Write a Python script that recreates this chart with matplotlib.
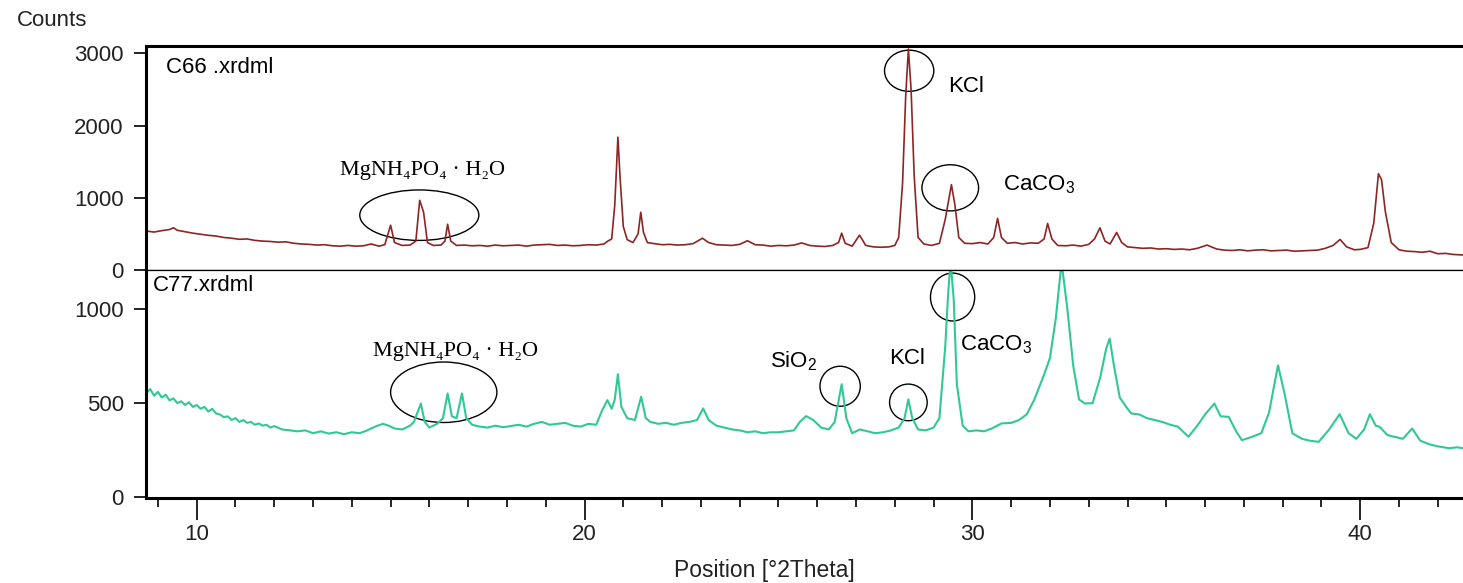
import numpy as np
import matplotlib.pyplot as plt
from matplotlib.patches import Ellipse
from matplotlib.ticker import MultipleLocator

plt.rcParams['font.family'] = ['Liberation Sans', 'DejaVu Sans']
plt.rcParams['mathtext.fontset'] = 'custom'
plt.rcParams['mathtext.rm'] = 'Liberation Sans'

# C66 pattern [deg 2theta], [counts]
c66_pos = [8.7, 8.9, 9.1, 9.3, 9.4, 9.5, 9.7, 9.9, 10.1, 10.3, 10.5, 10.7, 10.9, 11.1, 11.3,
           11.5, 11.7, 11.9, 12.1, 12.3, 12.5, 12.7, 12.9, 13.1, 13.3, 13.5, 13.7, 13.9, 14.1,
           14.3, 14.5, 14.7, 14.85, 15.0, 15.1, 15.3, 15.5, 15.65, 15.75, 15.85, 15.95, 16.1,
           16.3, 16.4, 16.47, 16.55, 16.7, 16.9, 17.1, 17.3, 17.5, 17.7, 17.9, 18.1, 18.3, 18.5,
           18.7, 18.9, 19.1, 19.3, 19.5, 19.7, 19.9, 20.1, 20.3, 20.5, 20.6, 20.7, 20.78, 20.86,
           20.92, 21.0, 21.1, 21.25, 21.38, 21.45, 21.52, 21.62, 21.8, 22.0, 22.2, 22.4, 22.6,
           22.8, 23.04, 23.2, 23.4, 23.6, 23.8, 24.0, 24.2, 24.4, 24.6, 24.8, 25.0, 25.2, 25.4,
           25.6, 25.8, 26.0, 26.2, 26.4, 26.55, 26.63, 26.72, 26.9, 27.09, 27.25, 27.45, 27.65,
           27.85, 28.0, 28.1, 28.2, 28.28, 28.35, 28.42, 28.5, 28.6, 28.75, 28.95, 29.15, 29.3,
           29.46, 29.55, 29.65, 29.8, 30.0, 30.2, 30.4, 30.55, 30.65, 30.75, 30.9, 31.1, 31.3,
           31.5, 31.7, 31.85, 31.94, 32.05, 32.2, 32.4, 32.6, 32.8, 33.0, 33.15, 33.29, 33.42,
           33.55, 33.72, 33.85, 34.0, 34.2, 34.4, 34.6, 34.8, 35.0, 35.2, 35.4, 35.6, 35.8,
           36.05, 36.3, 36.5, 36.7, 36.9, 37.1, 37.3, 37.5, 37.7, 37.9, 38.1, 38.3, 38.5, 38.7,
           38.9, 39.1, 39.3, 39.48, 39.65, 39.85, 40.0, 40.2, 40.35, 40.47, 40.55, 40.65, 40.8,
           41.0, 41.2, 41.4, 41.6, 41.8, 42.0, 42.2, 42.4, 42.66, 43.0]
c66_counts = [540, 525, 545, 560, 585, 550, 530, 510, 495, 480, 470, 450, 440, 425, 430,
              410, 400, 395, 385, 390, 370, 360, 355, 345, 350, 335, 330, 340, 330,
              335, 360, 330, 350, 620, 380, 340, 345, 400, 965, 800, 380, 340,
              345, 400, 634, 400, 340, 345, 335, 340, 330, 345, 335, 340, 345, 330,
              345, 350, 355, 340, 345, 335, 340, 350, 345, 360, 400, 430, 900, 1839,
              1250, 600, 420, 380, 500, 800, 520, 380, 365, 350, 355, 345, 350,
              365, 440, 380, 350, 345, 340, 355, 405, 350, 345, 330, 340, 335, 345,
              375, 340, 330, 325, 340, 380, 510, 370, 330, 483, 340, 320, 315,
              320, 340, 450, 1200, 2400, 3060, 2500, 1300, 450, 360, 340, 370, 700,
              1182, 900, 450, 370, 365, 380, 360, 450, 715, 450, 370, 380, 360,
              375, 370, 430, 644, 430, 340, 335, 345, 330, 355, 430, 584, 400,
              360, 520, 380, 320, 310, 300, 305, 290, 295, 285, 290, 280, 300,
              345, 290, 275, 270, 280, 265, 275, 280, 265, 270, 275, 260, 265, 270,
              275, 300, 340, 423, 320, 280, 285, 310, 650, 1333, 1250, 800, 380,
              280, 260, 255, 245, 260, 225, 230, 215, 207, 210]

# C77 pattern
c77_pos = [8.7, 8.8, 8.9, 9.0, 9.1, 9.2, 9.3, 9.4, 9.5, 9.6, 9.7, 9.8, 9.9, 10.0, 10.1, 10.2,
           10.3, 10.4, 10.5, 10.6, 10.7, 10.8, 10.9, 11.0, 11.1, 11.2, 11.3, 11.4, 11.5, 11.6,
           11.7, 11.8, 11.9, 12.0, 12.2, 12.4, 12.6, 12.8, 13.0, 13.2, 13.4, 13.6, 13.8, 14.0,
           14.2, 14.4, 14.6, 14.8, 14.95, 15.1, 15.3, 15.5, 15.6, 15.78, 15.88, 16.0, 16.2,
           16.35, 16.47, 16.58, 16.7, 16.84, 16.95, 17.1, 17.3, 17.5, 17.7, 17.9, 18.1, 18.3,
           18.5, 18.7, 18.9, 19.1, 19.3, 19.5, 19.7, 19.9, 20.1, 20.3, 20.45, 20.59, 20.7,
           20.78, 20.86, 20.95, 21.1, 21.3, 21.46, 21.58, 21.7, 21.9, 22.1, 22.3, 22.5, 22.7,
           22.9, 23.06, 23.2, 23.4, 23.6, 23.8, 24.0, 24.2, 24.4, 24.6, 24.8, 25.0, 25.2, 25.4,
           25.55, 25.71, 25.9, 26.1, 26.3, 26.45, 26.63, 26.75, 26.9, 27.1, 27.3, 27.5, 27.7,
           27.9, 28.1, 28.25, 28.35, 28.45, 28.6, 28.8, 29.0, 29.15, 29.3, 29.38, 29.44, 29.52,
           29.6, 29.75, 29.9, 30.1, 30.3, 30.5, 30.75, 31.0, 31.2, 31.4, 31.6, 31.86, 32.0,
           32.15, 32.3, 32.45, 32.6, 32.75, 32.9, 33.1, 33.3, 33.45, 33.54, 33.65, 33.8, 34.0,
           34.1, 34.3, 34.5, 34.7, 34.9, 35.1, 35.3, 35.57, 35.8, 36.0, 36.24, 36.4, 36.61,
           36.8, 36.95, 37.2, 37.45, 37.65, 37.88, 38.05, 38.25, 38.5, 38.7, 38.93, 39.2,
           39.47, 39.7, 39.9, 40.1, 40.25, 40.4, 40.5, 40.7, 40.9, 41.1, 41.34, 41.55, 41.8,
           42.0, 42.3, 42.5, 42.66, 43.0]
c77_counts = [552, 575, 540, 560, 530, 545, 515, 525, 500, 510, 490, 505, 480, 490, 470, 480,
              455, 470, 445, 440, 425, 430, 410, 420, 400, 410, 395, 400, 385, 392,
              380, 385, 370, 378, 360, 355, 350, 355, 340, 350, 338, 345, 335, 345,
              340, 355, 375, 390, 380, 365, 360, 380, 400, 498, 400, 370, 390,
              420, 552, 430, 420, 552, 420, 385, 375, 370, 380, 372, 378, 385,
              375, 390, 400, 385, 390, 395, 380, 375, 390, 385, 460, 516, 470,
              520, 654, 480, 420, 410, 534, 420, 400, 390, 395, 385, 395, 400,
              410, 472, 410, 380, 370, 360, 355, 345, 350, 340, 345, 345, 350, 355,
              400, 431, 410, 370, 360, 400, 601, 420, 340, 360, 350, 340, 345,
              355, 370, 420, 520, 420, 360, 355, 370, 420, 800, 1100, 1250, 1050,
              600, 380, 350, 355, 350, 365, 392, 395, 410, 440, 520, 658, 740,
              950, 1250, 1000, 700, 520, 498, 500, 640, 790, 844, 700, 530, 470,
              445, 440, 420, 410, 400, 385, 375, 321, 380, 440, 498, 430, 427,
              350, 303, 320, 340, 450, 702, 550, 340, 310, 300, 294, 360,
              441, 340, 310, 360, 441, 380, 374, 330, 320, 310, 365, 300, 280,
              270, 260, 265, 259, 255]

top_ticks = [0, 1000, 2000, 3000]
bottom_ticks = [0, 500, 1000]
x_ticks = [10, 20, 30, 40]

fig = plt.figure(figsize=(14.63, 5.83), dpi=100)
ax1 = fig.add_axes([0.0998, 0.5369, 0.91, 0.3842])
ax2 = fig.add_axes([0.0998, 0.1458, 0.91, 0.3911])

ax1.plot(c66_pos, c66_counts, color='#8e2424', lw=1.2)
ax2.plot(c77_pos, c77_counts, color='#30c896', lw=1.5)

for ax in (ax1, ax2):
    ax.set_xlim(8.693, 43.02)
    ax.spines['right'].set_visible(False)
    ax.spines['left'].set_linewidth(2.2)
    ax.tick_params(axis='y', direction='out', length=9, width=1.2, pad=7,
                   labelsize=16, labelcolor='#222222')

ax1.set_ylim(0, 3102)
ax1.set_yticks(top_ticks)
ax1.set_xticks([])
ax1.spines['top'].set_linewidth(2.2)
ax1.spines['bottom'].set_linewidth(0.9)

ax2.set_ylim(-5, 1209)
ax2.set_yticks(bottom_ticks)
ax2.spines['top'].set_linewidth(0.9)
ax2.spines['bottom'].set_linewidth(2.2)
ax2.set_xticks(x_ticks)
ax2.xaxis.set_minor_locator(MultipleLocator(1))
ax2.tick_params(axis='x', which='major', direction='out', length=16, width=1.2, pad=3,
                labelsize=16, labelcolor='#222222')
ax2.tick_params(axis='x', which='minor', direction='out', length=6.5, width=1.2)

# panel names
ax1.text(0.015, 0.906, 'C66 .xrdml', transform=ax1.transAxes, fontsize=16, va='center')
ax2.text(0.005, 0.934, 'C77.xrdml', transform=ax2.transAxes, fontsize=16, va='center')

# phase marks, top panel
serif = ['Liberation Serif', 'DejaVu Serif']
ax1.add_patch(Ellipse((15.74, 759), 3.07, 699, fill=False, lw=1, ec='black'))
ax1.add_patch(Ellipse((28.37, 2759), 1.27, 570, fill=False, lw=1, ec='black'))
ax1.add_patch(Ellipse((29.43, 1138), 1.46, 639, fill=False, lw=1, ec='black'))
ax1.text(13.69, 1316, 'MgNH₄PO₄ · H₂O', family=serif, fontsize=16, va='baseline')
ax1.text(29.38, 2470, 'KCl', fontsize=16, va='baseline')
ax1.text(30.79, 1108, r'CaCO$_\mathrm{3}$', fontsize=16, va='baseline')

# phase marks, bottom panel
ax2.add_patch(Ellipse((16.37, 558), 2.74, 322, fill=False, lw=1, ec='black'))
ax2.add_patch(Ellipse((26.59, 590), 1.04, 213, fill=False, lw=1, ec='black'))
ax2.add_patch(Ellipse((28.35, 504), 0.97, 195, fill=False, lw=1, ec='black'))
ax2.add_patch(Ellipse((29.49, 1065), 1.14, 255, fill=False, lw=1, ec='black'))
ax2.text(14.55, 753, 'MgNH₄PO₄ · H₂O', family=serif, fontsize=16, va='baseline')
ax2.text(24.78, 693, r'SiO$_\mathrm{2}$', fontsize=16, va='baseline')
ax2.text(27.86, 709, 'KCl', fontsize=16, va='baseline')
ax2.text(29.67, 779, r'CaCO$_\mathrm{3}$', fontsize=16, va='baseline')

fig.text(17 / 1463, 1 - 20 / 583, 'Counts', fontsize=16, va='center', color='#222222')
fig.text(764 / 1463, 6 / 583, 'Position [°2Theta]', fontsize=16.5, ha='center',
         va='baseline', color='#222222')

plt.savefig('out.png', dpi=100)
